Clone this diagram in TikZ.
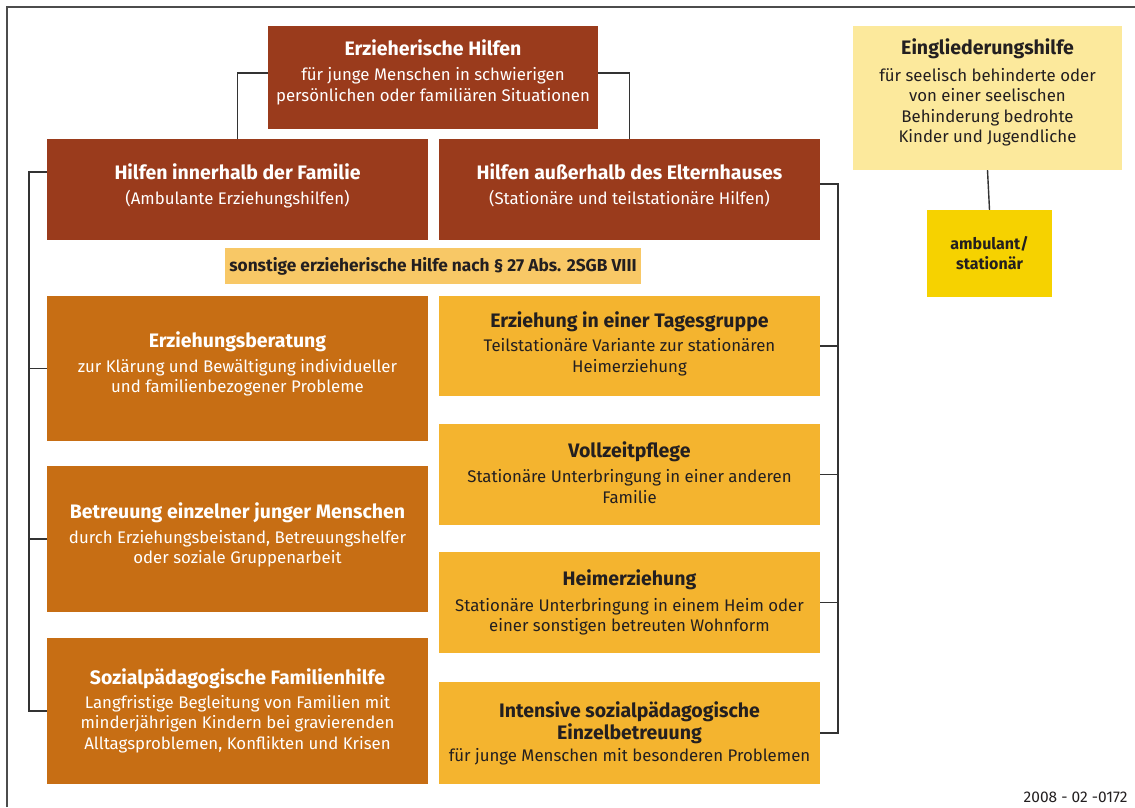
\documentclass[tikz,border=0pt]{standalone}
\usepackage{fontspec}
\setmainfont{Fira Sans}
\usetikzlibrary{positioning}

\definecolor{hilfebraun}{HTML}{9A3B1C}
\definecolor{hilfeorange}{HTML}{C76E14}
\definecolor{hilfegelb}{HTML}{F4B42F}
\definecolor{sonstgelb}{HTML}{F8C866}
\definecolor{blassgelb}{HTML}{FCE99C}
\definecolor{goldgelb}{HTML}{F6D200}
\definecolor{schrift}{HTML}{231F20}

\newcommand{\titel}[1]{{\fontsize{19.5}{23}\selectfont\bfseries #1}}

\tikzset{
  hbox/.style={inner sep=2pt, align=center, minimum width=381pt,
               font=\fontsize{16.8}{20.5}\selectfont},
  braun/.style={hbox, fill=hilfebraun, text=white},
  orange/.style={hbox, fill=hilfeorange, text=white},
  gelb/.style={hbox, fill=hilfegelb, text=schrift},
  tief/.style={text depth=#1},
  verbind/.style={draw=black!80, line width=1.4pt}
}

\begin{document}
\begin{tikzpicture}[x=1pt,y=-1pt]

  \useasboundingbox (0,0) rectangle (1135,807);
  \draw [black!70, line width=1.5pt] (7,807) -- (7,7) -- (1135,7);

  \node [braun, minimum width=330pt, minimum height=103pt, tief=14.4pt] (top) at (433,77.5)
        {\titel{Erzieherische Hilfen}\\[5pt] für junge Menschen in schwierigen\\
         persönlichen oder familiären Situationen};

  \node [braun, minimum height=101pt, tief=10.4pt] (inner) at (237.5,189.5)
        {\titel{Hilfen innerhalb der Familie}\\[5pt] (Ambulante Erziehungshilfen)};
  \node [braun, minimum height=101pt, tief=10.4pt] (outer) at (629.5,189.5)
        {\titel{Hilfen außerhalb des Elternhauses}\\[5pt] (Stationäre und teilstationäre Hilfen)};

  \node [hbox, fill=sonstgelb, text=schrift, minimum width=416pt, minimum height=36pt,
         font=\fontsize{17.3}{20}\selectfont\bfseries] (sonst) at (433,266)
        {sonstige erzieherische Hilfe nach § 27 Abs. 2SGB VIII};

  % linke Spalte
  \node [orange, minimum height=145pt, tief=12.4pt] (beratung) at (237.5,368.5)
        {\titel{Erziehungsberatung}\\[4pt] zur Klärung und Bewältigung individueller\\
         und familienbezogener Probleme};
  \node [orange, minimum height=146pt, tief=11.4pt] (betreuung) at (237.5,539)
        {\titel{Betreuung einzelner junger Menschen}\\[4pt] durch Erziehungsbeistand, Betreuungshelfer\\
         oder soziale Gruppenarbeit};
  \node [orange, minimum height=146pt] (sozial) at (237.5,711)
        {\titel{Sozialpädagogische Familienhilfe}\\[3pt] Langfristige Begleitung von Familien mit\\
         minderjährigen Kindern bei gravierenden\\ Alltagsproblemen, Konflikten und Krisen};

  % rechte Spalte
  \node [gelb, minimum height=100pt, tief=8.4pt] (tages) at (629.5,346)
        {\titel{Erziehung in einer Tagesgruppe}\\[4pt] Teilstationäre Variante zur stationären\\
         Heimerziehung};
  \node [gelb, minimum height=101pt, tief=4.4pt] (vollzeit) at (629.5,474.5)
        {\titel{Vollzeitpflege}\\[5pt] Stationäre Unterbringung in einer anderen\\ Familie};
  \node [gelb, minimum height=101pt] (heim) at (629.5,602.5)
        {\titel{Heimerziehung}\\[5pt] Stationäre Unterbringung in einem Heim oder\\
         einer sonstigen betreuten Wohnform};
  \node [gelb, minimum height=102pt] (intensiv) at (629.5,733)
        {\titel{Intensive sozialpädagogische}\\[2pt] \titel{Einzelbetreuung}\\[1pt]
         für junge Menschen mit besonderen Problemen};

  % Eingliederungshilfe
  \node [hbox, fill=blassgelb, text=schrift, minimum width=269pt, minimum height=144pt,
         tief=14.4pt] (einglied) at (987.5,98)
        {\titel{Eingliederungshilfe}\\[6pt] für seelisch behinderte oder\\ von einer seelischen\\
         Behinderung bedrohte\\ Kinder und Jugendliche};
  \node [hbox, fill=goldgelb, text=schrift, minimum width=125pt, minimum height=87pt,
         font=\fontsize{16}{20}\selectfont\bfseries] (ambulant) at (989.5,253.5)
        {ambulant/\\ stationär};

  \node [anchor=base east, text=schrift, font=\fontsize{15.5}{18}\selectfont] (nummer)
        at (1131,802) {2008 - 02 -0172};

  % Verbindungen
  \draw [verbind] ([yshift=4.5pt]top.west) -| (inner.north);
  \draw [verbind] ([yshift=4.5pt]top.east) -| (outer.north);

  \coordinate (lbus) at (29,0);
  \draw [verbind] ([yshift=17.5pt]inner.west) -| (lbus |- sozial.west) -- (sozial.west);
  \foreach \n in {beratung,betreuung}
    \draw [verbind] (\n.west) -- (lbus |- \n.west);

  \coordinate (rbus) at (838,0);
  \draw [verbind] ([yshift=5.5pt]outer.east) -| (rbus |- intensiv.east) -- (intensiv.east);
  \foreach \n in {tages,vollzeit,heim}
    \draw [verbind] (\n.east) -- (rbus |- \n.east);

  \draw [verbind] (einglied.south) -- (ambulant.north);

\end{tikzpicture}
\end{document}
